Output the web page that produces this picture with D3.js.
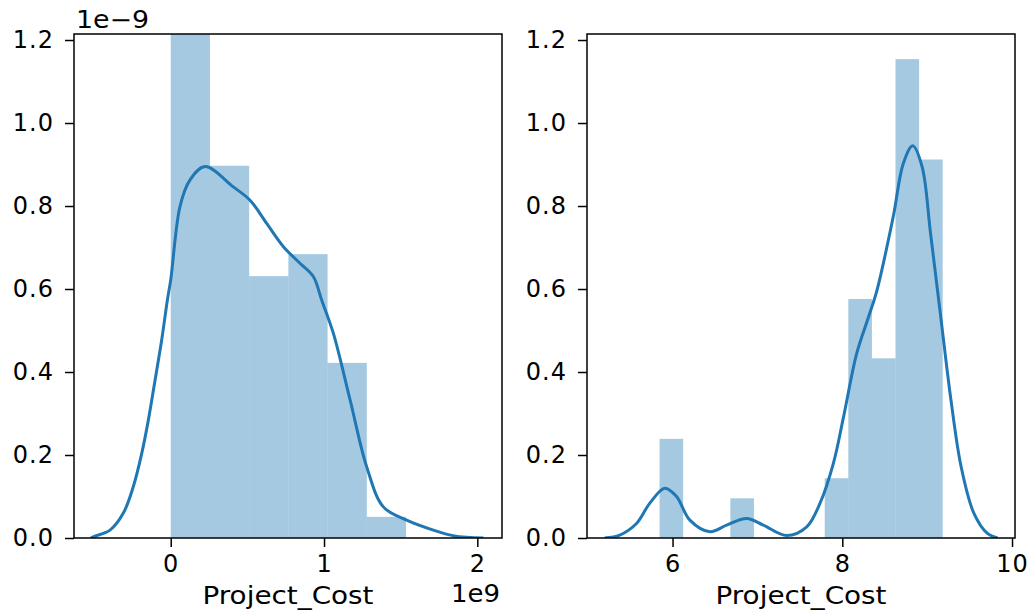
<!DOCTYPE html>
<html>
<head>
<meta charset="utf-8">
<script src="https://cdn.jsdelivr.net/npm/d3@7"></script>
<style>
  body { margin: 0; background: #fff; }
  text { font-family: "DejaVu Sans", sans-serif; fill: #000; }
</style>
</head>
<body>
<svg id="chart" width="1029" height="610"></svg>
<script>
// left panel: raw Project_Cost (x in 1e9, density in 1e-9)
const costBinEdges = [0, 0.2558, 0.5116, 0.7674, 1.0232, 1.279, 1.5348];
const costDensity = [1.22, 0.897, 0.631, 0.684, 0.422, 0.051];
const costKdeX = [-0.52, -0.505, -0.396, -0.309, -0.244, -0.189, -0.146, -0.102, -0.059, -0.022, 0.0, 0.061, 0.126, 0.224, 0.408, 0.517, 0.626, 0.735, 0.843, 0.93, 0.985, 1.061, 1.17, 1.278, 1.387, 1.539, 1.713, 1.85, 2.04];
const costKdeY = [0, 0.003, 0.019, 0.06, 0.124, 0.204, 0.284, 0.381, 0.477, 0.573, 0.622, 0.8, 0.863, 0.895, 0.846, 0.814, 0.758, 0.702, 0.662, 0.63, 0.573, 0.493, 0.333, 0.172, 0.075, 0.043, 0.019, 0.005, 0];
const costXTicks = [0, 1, 2];

// right panel: log Project_Cost
const logBinEdges = [5.847, 6.125, 6.403, 6.681, 6.959, 7.237, 7.515, 7.793, 8.071, 8.349, 8.627, 8.905, 9.183];
const logDensity = [0.239, 0, 0, 0.0956, 0, 0, 0, 0.144, 0.576, 0.433, 1.154, 0.912];
const logKdeX = [5.2, 5.378, 5.575, 5.732, 5.909, 6.047, 6.204, 6.44, 6.637, 6.873, 7.069, 7.345, 7.581, 7.738, 7.895, 8.013, 8.17, 8.31, 8.41, 8.6, 8.72, 8.83, 8.94, 9.04, 9.16, 9.28, 9.4, 9.55, 9.71, 9.83];
const logKdeY = [0, 0.007, 0.035, 0.084, 0.12, 0.1, 0.043, 0.015, 0.031, 0.047, 0.031, 0.006, 0.027, 0.084, 0.18, 0.29, 0.445, 0.533, 0.598, 0.774, 0.903, 0.945, 0.895, 0.734, 0.533, 0.333, 0.172, 0.06, 0.011, 0];
const logXTicks = [6, 8, 10];

const yTicks = [0, 0.2, 0.4, 0.6, 0.8, 1.0, 1.2];

const svg = d3.select("#chart");
const plotTop = 34, plotBottom = 538;
const barColor = "#1f77b4";

function drawPanel(opts) {
  const x = d3.scaleLinear().domain(opts.xDomain).range([opts.left, opts.right]);
  const y = d3.scaleLinear().domain([0, 1.2145]).range([plotBottom, plotTop]);

  const clipId = "clip" + opts.id;
  svg.append("clipPath").attr("id", clipId)
    .append("rect")
    .attr("x", opts.left).attr("y", plotTop)
    .attr("width", opts.right - opts.left).attr("height", plotBottom - plotTop);

  const g = svg.append("g").attr("clip-path", `url(#${clipId})`);

  const bins = opts.density.map((d, i) => ({ x0: opts.edges[i], x1: opts.edges[i + 1], h: d }));
  g.selectAll("rect.bar")
    .data(bins.filter(b => b.h > 0))
    .enter().append("rect")
    .attr("class", "bar")
    .attr("x", d => x(d.x0))
    .attr("width", d => x(d.x1) - x(d.x0))
    .attr("y", d => y(d.h))
    .attr("height", d => y(0) - y(d.h))
    .attr("fill", barColor)
    .attr("fill-opacity", 0.4);

  const pts = opts.kdeX.map((v, i) => [v, opts.kdeY[i]]);
  g.append("path")
    .datum(pts)
    .attr("fill", "none")
    .attr("stroke", barColor)
    .attr("stroke-width", 3)
    .attr("d", d3.line().x(d => x(d[0])).y(d => y(d[1])).curve(d3.curveCatmullRom));

  // axes
  const xAxis = svg.append("g")
    .attr("transform", `translate(0,${plotBottom})`)
    .call(d3.axisBottom(x).tickValues(opts.xTicks).tickFormat(d3.format("d")).tickSize(9).tickPadding(8));
  const yAxis = svg.append("g")
    .attr("transform", `translate(${opts.left},0)`)
    .call(d3.axisLeft(y).tickValues(yTicks).tickFormat(d3.format(".1f")).tickSize(9).tickPadding(11));

  [xAxis, yAxis].forEach(a => {
    a.select(".domain").remove();
    a.selectAll(".tick line").attr("stroke", "#000").attr("stroke-width", 1.5);
    a.selectAll(".tick text").style("font-size", "24px").style("letter-spacing", "1px").attr("font-family", null);
  });

  svg.append("rect")
    .attr("x", opts.left).attr("y", plotTop)
    .attr("width", opts.right - opts.left).attr("height", plotBottom - plotTop)
    .attr("fill", "none").attr("stroke", "#000").attr("stroke-width", 1.5);

  svg.append("text")
    .attr("x", (opts.left + opts.right) / 2).attr("y", 604)
    .attr("text-anchor", "middle")
    .attr("textLength", 171).attr("lengthAdjust", "spacingAndGlyphs")
    .style("font-size", "24px")
    .text("Project_Cost");
}

drawPanel({ id: "a", left: 74, right: 502, xDomain: [-0.631, 2.161],
  edges: costBinEdges, density: costDensity, kdeX: costKdeX, kdeY: costKdeY, xTicks: costXTicks });
drawPanel({ id: "b", left: 587, right: 1015, xDomain: [4.992, 10.035],
  edges: logBinEdges, density: logDensity, kdeX: logKdeX, kdeY: logKdeY, xTicks: logXTicks });

// offset labels for the scientific scaling
svg.append("text").attr("x", 76).attr("y", 28)
  .attr("textLength", 73).attr("lengthAdjust", "spacingAndGlyphs")
  .style("font-size", "24px").text("1e\u22129");
svg.append("text").attr("x", 451).attr("y", 602)
  .attr("textLength", 49).attr("lengthAdjust", "spacingAndGlyphs")
  .style("font-size", "24px").text("1e9");
</script>
</body>
</html>
